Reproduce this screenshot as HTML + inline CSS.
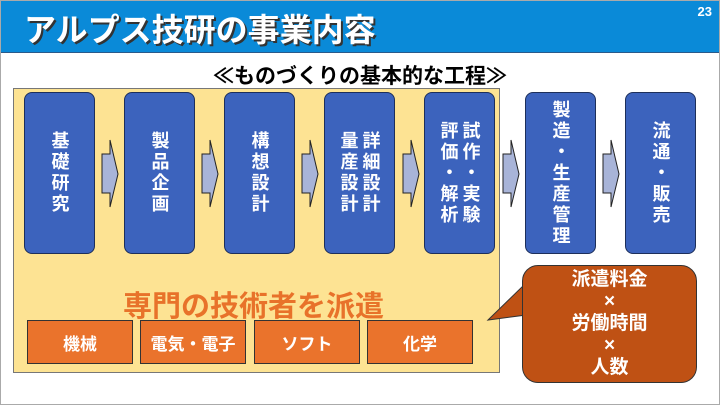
<!DOCTYPE html>
<html><head><meta charset="utf-8"><style>
body{margin:0;width:720px;height:405px;overflow:hidden;background:#fff;font-family:"Liberation Sans","Noto Sans CJK JP",sans-serif;position:relative}
.hdr{position:absolute;left:0;top:0;width:720px;height:52px;background:#0a8ad8;border-bottom:1px solid #2a5a8a}
.title{position:absolute;left:24px;top:5px;font-size:32px;font-weight:bold;color:#fff;text-shadow:2px 2px 0 #333}
.pn{position:absolute;right:8px;top:4px;font-size:13px;font-weight:bold;color:#fff}
.sub{position:absolute;left:0;width:720px;top:60px;text-align:center;font-size:21px;font-weight:bold;color:#000}
.yel{position:absolute;left:13px;top:88px;width:487px;height:285px;background:#fde393;border:1px solid #777;box-sizing:border-box}
.bx{position:absolute;top:92px;width:71px;height:162px;background:#3c63bd;border:1px solid #1d2f5a;border-radius:8px;box-sizing:border-box;display:flex;align-items:center;justify-content:center}
.bx span{writing-mode:vertical-rl;color:#fff;font-weight:bold;font-size:18px;line-height:22px;letter-spacing:3px}
.ob{position:absolute;top:320px;width:106px;height:44px;background:#ea732c;border:1px solid #333;box-sizing:border-box;color:#fff;font-weight:bold;font-size:17px;display:flex;align-items:center;justify-content:center}
.haken{position:absolute;left:10px;width:487px;top:283px;text-align:center;font-size:29px;font-weight:bold;color:#e8722a}
.bub{position:absolute;left:522px;top:265px;width:175px;height:118px;background:#bf5114;border:1px solid #333;border-radius:16px;box-sizing:border-box;color:#fff;font-weight:bold;font-size:19px;line-height:22px;text-align:center;padding-top:3px}
.frame{position:absolute;left:0;top:0;width:720px;height:405px;border:1px solid #aaa;box-sizing:border-box;pointer-events:none}
</style></head><body>
<div class="hdr"><div class="title">アルプス技研の事業内容</div><div class="pn">23</div></div>
<div class="sub">≪ものづくりの基本的な工程≫</div>
<div class="yel"></div>
<div class="bx" style="left:24px"><span>基礎研究</span></div>
<div class="bx" style="left:124px"><span>製品企画</span></div>
<div class="bx" style="left:224px"><span>構想設計</span></div>
<div class="bx" style="left:324px"><span>詳細設計<br>量産設計</span></div>
<div class="bx" style="left:424px"><span>試作・実験<br>評価・解析</span></div>
<div class="bx" style="left:525px"><span>製造・生産管理</span></div>
<div class="bx" style="left:625px"><span>流通・販売</span></div>
<svg width="720" height="405" style="position:absolute;left:0;top:0">
<g fill="#a8b4d8" stroke="#222" stroke-width="1">
<polygon points="102,154 110,154 110,140 118,174 110,207 110,193 102,193"/>
<polygon points="202,154 210,154 210,140 218,174 210,207 210,193 202,193"/>
<polygon points="302,154 310,154 310,140 318,174 310,207 310,193 302,193"/>
<polygon points="403,154 411,154 411,140 419,174 411,207 411,193 403,193"/>
<polygon points="503,154 511,154 511,140 519,174 511,207 511,193 503,193"/>
<polygon points="603,154 611,154 611,140 619,174 611,207 611,193 603,193"/>
</g>
<polygon points="488,320 526,283 526,315" fill="#bf5114" stroke="#333" stroke-width="1"/>
</svg>
<div class="haken">専門の技術者を派遣</div>
<div class="ob" style="left:27px">機械</div>
<div class="ob" style="left:140px">電気・電子</div>
<div class="ob" style="left:254px">ソフト</div>
<div class="ob" style="left:367px">化学</div>
<div class="bub">派遣料金<br>×<br>労働時間<br>×<br>人数</div>
<svg width="720" height="405" style="position:absolute;left:0;top:0"><rect x="523" y="282" width="6" height="35" fill="#bf5114"/></svg>
<div class="frame"></div>
</body></html>
